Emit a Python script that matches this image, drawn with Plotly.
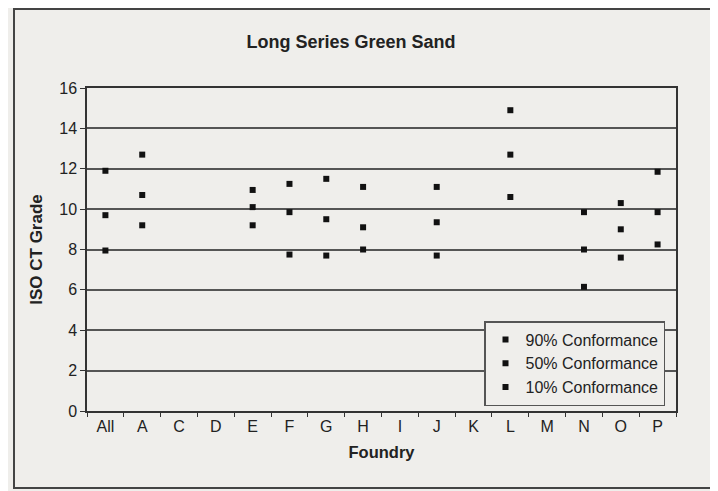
import plotly.graph_objects as go

foundries = ["All", "A", "C", "D", "E", "F", "G", "H", "I", "J", "K", "L", "M", "N", "O", "P"]
conf90 = [11.9, 12.7, None, None, 10.95, 11.25, 11.5, 11.1, None, 11.1, None, 14.9, None, 9.85, 10.3, 11.85]
conf50 = [9.7, 10.7, None, None, 10.1, 9.85, 9.5, 9.1, None, 9.35, None, 12.7, None, 8.0, 9.0, 9.85]
conf10 = [7.95, 9.2, None, None, 9.2, 7.75, 7.7, 8.0, None, 7.7, None, 10.6, None, 6.15, 7.6, 8.25]
series_names = ["90% Conformance", "50% Conformance", "10% Conformance"]
y_ticks = [0, 2, 4, 6, 8, 10, 12, 14, 16]

# page body has an 8px default margin; the figure is sized to fit the window
OFF = 8
W, H = 718 - OFF, 491 - OFF
# plot area in window pixels
PX0, PX1, PY0, PY1 = 87, 676, 88, 411
L, R, T, B = PX0 - OFF, 718 - PX1, PY0 - OFF, 491 - PY1
pw, ph = PX1 - PX0, PY1 - PY0

FONT = "Liberation Sans, Arial, sans-serif"
INK = "#222222"
BG = "#efeeeb"

fig = go.Figure()
for name, vals in zip(series_names, [conf90, conf50, conf10]):
    fig.add_trace(go.Scatter(
        x=foundries, y=vals, name=name, mode="markers",
        marker=dict(symbol="square", size=6, color="#111111"),
    ))

def px_x(p):
    return (p - PX0) / pw

def px_y(p):
    return (PY1 - p) / ph

# outer frame of the chart
fig.add_shape(type="rect", xref="paper", yref="paper",
              x0=px_x(14), x1=px_x(711), y0=px_y(488), y1=px_y(9),
              line=dict(color="#444444", width=2), layer="below")

fig.update_layout(
    width=W, height=H,
    margin=dict(l=L, r=R, t=T, b=B),
    paper_bgcolor=BG, plot_bgcolor=BG,
    font=dict(family=FONT, color=INK, size=16),
    title=dict(text="<b>Long Series Green Sand</b>", x=(351 - OFF) / W, xanchor="center",
               y=1 - (42 - OFF) / H, yanchor="middle", font=dict(size=18, family=FONT, color=INK)),
    showlegend=True,
    legend=dict(x=px_x(484), y=px_y(321), xanchor="left", yanchor="top",
                bgcolor=BG, bordercolor="#555555", borderwidth=1.5,
                font=dict(size=16, family=FONT, color=INK),
                itemwidth=30, tracegroupgap=0),
    xaxis=dict(
        type="category", categoryorder="array", categoryarray=foundries,
        range=[-0.5, len(foundries) - 0.5],
        showgrid=False, showline=True, linecolor="#333333", linewidth=1.5, mirror=True,
        ticks="outside", tickson="boundaries", ticklen=4, tickcolor="#333333",
        tickfont=dict(size=16, family=FONT, color=INK),
        title=dict(text="<b>Foundry</b>", font=dict(size=16.5, family=FONT, color=INK), standoff=12),
        zeroline=False,
    ),
    yaxis=dict(
        range=[0, 16], tickvals=y_ticks,
        showgrid=True, gridcolor="#555555", gridwidth=1.5,
        showline=True, linecolor="#333333", linewidth=1.5, mirror=True,
        ticks="outside", ticklen=5, tickcolor="#333333",
        tickfont=dict(size=16, family=FONT, color=INK),
        title=dict(text="<b>ISO CT Grade</b>", font=dict(size=17, family=FONT, color=INK), standoff=12),
        zeroline=False,
    ),
)

fig.write_html("out.html")
